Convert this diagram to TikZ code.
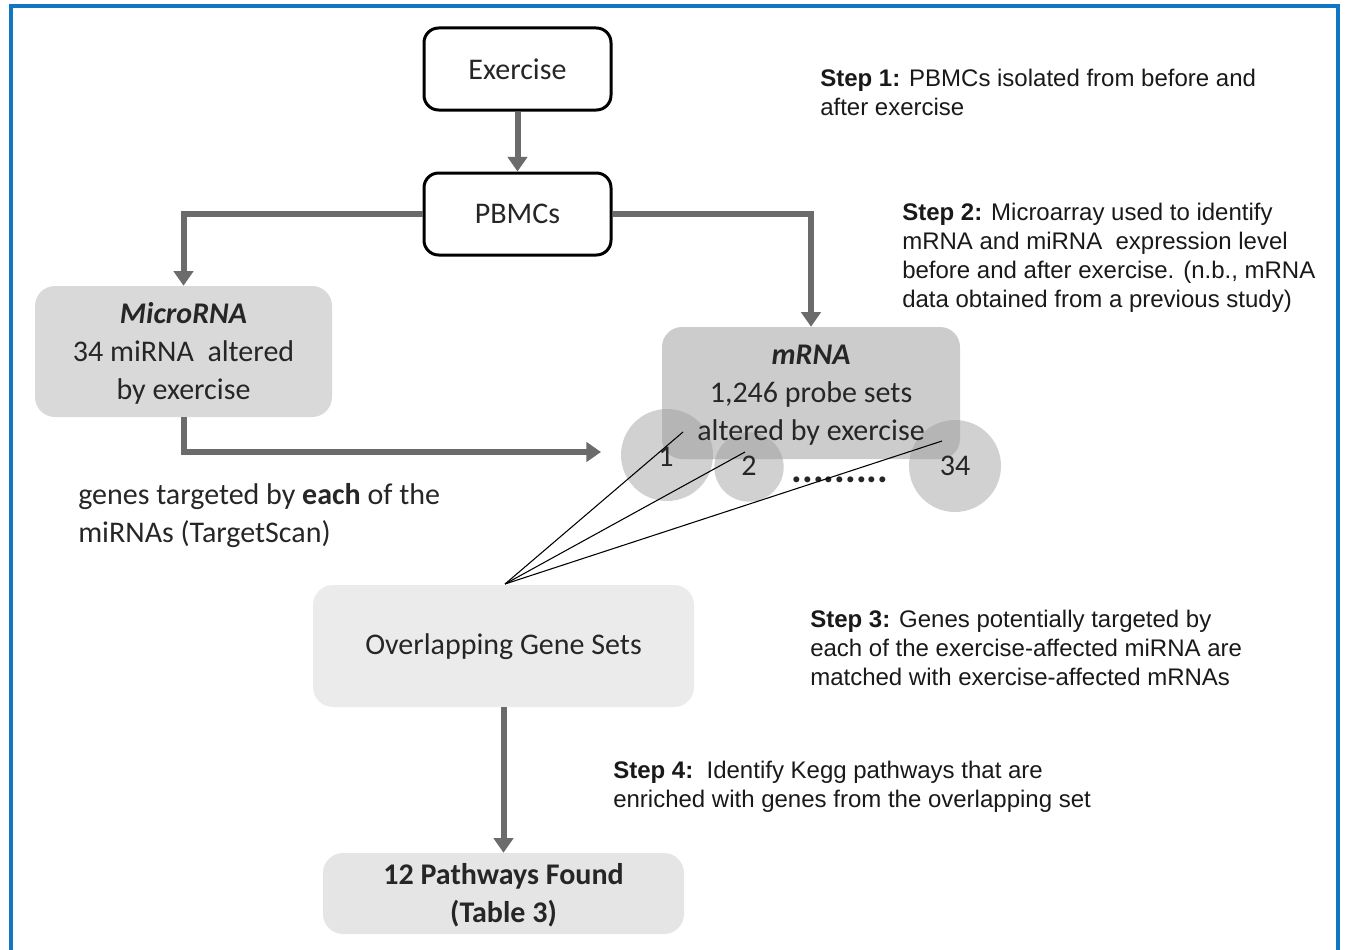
\documentclass[tikz,border=0pt]{standalone}
\usepackage{fontspec}
\setmainfont{Carlito}
\newfontfamily\stepfont{Liberation Sans}
\usetikzlibrary{arrows.meta}
\definecolor{frameblue}{HTML}{1277C2}
\definecolor{arrowgray}{HTML}{6B6B6B}
\definecolor{txt}{HTML}{262626}
\tikzset{
  whitebox/.style={draw=black, line width=2.25pt, rounded corners=11pt, fill=white, text=txt,
    font=\fontsize{22.5}{28}\selectfont, inner sep=0pt},
  graybox/.style={rounded corners=15pt, inner sep=0pt},
  boxtext/.style={align=center, text=txt, font=\fontsize{22.5}{28.5}\selectfont, inner sep=0pt},
  steptext/.style={align=left, anchor=north west, inner sep=0pt, text=black!90,
    font=\stepfont\fontsize{18}{21.75}\selectfont},
  flow/.style={draw=arrowgray, line width=4.5pt, -{Triangle[width=14.5pt,length=11pt]}},
  thin/.style={draw=black, line width=0.8pt},
  bubble/.style={circle, fill=black!40, opacity=0.45, inner sep=0pt},
  bubblelabel/.style={text=txt, font=\fontsize{22.5}{28}\selectfont, inner sep=0pt}
}
\begin{document}
\begin{tikzpicture}[x=0.75pt,y=-0.75pt]
\useasboundingbox (0,0) rectangle (1345,949);
\begin{scope}
\clip (0,0) rectangle (1345,949);
\draw[frameblue, line width=2.4pt] (11,960) -- (11,6) -- (1338,6) -- (1338,960);
\end{scope}

% boxes
\node[whitebox, minimum width=140.25pt, minimum height=61.5pt] (ex) at (517.5,69) {Exercise};
\node[whitebox, minimum width=140.25pt, minimum height=61.5pt] (pb) at (517.5,214) {PBMCs};

\node[graybox, fill=black!15, minimum width=222.75pt, minimum height=98.25pt] (micro) at (183.5,351.5) {};
\node[boxtext] (microtext) at (183.5,353.5) {\textbf{\textit{MicroRNA}}\\34 miRNA\ \ altered\\by exercise};

\node[graybox, fill=black!20, minimum width=223.5pt, minimum height=99pt] (mrna) at (811,393) {};

% bubbles
\node[bubble, minimum size=69pt] (c1) at (667,455) {};
\node[bubble, minimum size=52pt] (c2) at (749,467) {};
\node[bubble, minimum size=69pt] (c34) at (955,466) {};

\node[boxtext] (mrnatext) at (811,395.5) {\textbf{\textit{mRNA}}\\1,246 probe sets\\altered by exercise};
\node[bubblelabel] (l1) at (666,457) {1};
\node[bubblelabel] (l2) at (749,466) {2};
\node[bubblelabel] (l34) at (955,466) {34};
\node[bubblelabel, font=\bfseries\fontsize{30}{30}\selectfont] (dots) at (840,480) {.........};

\node[graybox, fill=black!8, minimum width=285.75pt, minimum height=91.5pt] (overlap) at (503.5,646) {};
\node[boxtext] (overlaptext) at (503.5,647) {Overlapping Gene Sets};

\node[graybox, fill=black!10, minimum width=270.75pt, minimum height=60.75pt] (paths) at (503.5,893.5) {};
\node[boxtext] (pathstext) at (503.5,895.5) {\textbf{12 Pathways Found}\\\textbf{(Table 3)}};

% flow arrows
\draw[flow] (ex.south) -- (pb.north);
\draw[flow] (pb.west) -| (micro.north);
\draw[flow] (pb.east) -| (mrna.north);
\coordinate (mirtip) at (601,452);
\draw[flow] (micro.south) |- (mirtip);
\draw[flow] (overlap.south) -- (paths.north);

% thin connectors
\coordinate (hub) at (505,584);
\coordinate (e1) at (683,432);
\coordinate (e2) at (745,452);
\coordinate (e3) at (942,441);
\draw[thin] (hub) -- (e1);
\draw[thin] (hub) -- (e2);
\draw[thin] (hub) -- (e3);

% texts
\node[boxtext, align=left, anchor=west] (genes) at (78,516) {genes targeted by \textbf{each} of the\\miRNAs (TargetScan)};

\node[steptext] (s1) at (820,69) {\textbf{Step 1:} PBMCs isolated from before and\\after exercise};
\node[steptext] (s2) at (902,203) {\textbf{Step 2:} Microarray used to identify\\mRNA and miRNA\ \ expression level\\before and after exercise. (n.b., mRNA\\data obtained from a previous study)};
\node[steptext] (s3) at (810,610) {\textbf{Step 3:} Genes potentially targeted by\\each of the exercise-affected miRNA are\\matched with exercise-affected mRNAs};
\node[steptext] (s4) at (613,761) {\textbf{Step 4:}\ \ Identify Kegg pathways that are\\enriched with genes from the overlapping set};
\end{tikzpicture}
\end{document}
